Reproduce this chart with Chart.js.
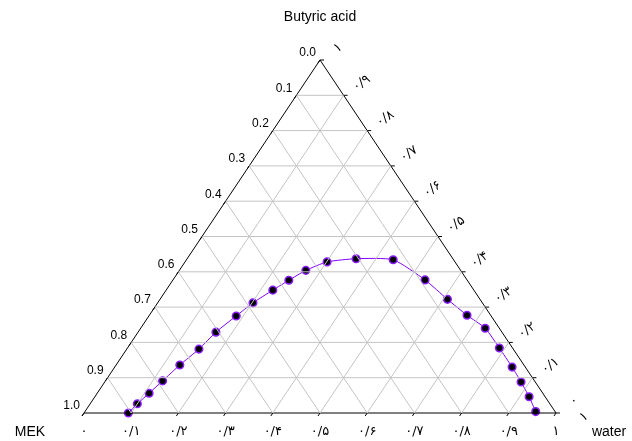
<!DOCTYPE html>
<html>
<head>
<meta charset="utf-8">
<script src="https://cdn.jsdelivr.net/npm/chart.js@4"></script>
<style>
  body { margin: 0; background: #fff; }
  #chart { display: block; }
</style>
</head>
<body>
<canvas id="chart" width="632" height="441"></canvas>
<script>
// tie line data: mass fractions
var water = [0.094, 0.100, 0.110, 0.121, 0.135, 0.153, 0.165, 0.185, 0.202, 0.226, 0.246, 0.268,
             0.301, 0.358, 0.438, 0.534, 0.609, 0.673, 0.730, 0.788, 0.842, 0.882, 0.920, 0.955];
var acid = [0.000, 0.026, 0.056, 0.091, 0.136, 0.181, 0.229, 0.275, 0.312, 0.348, 0.376, 0.404,
            0.428, 0.437, 0.434, 0.377, 0.322, 0.277, 0.240, 0.184, 0.130, 0.088, 0.046, 0.004];

var leftTicks = ['0.0', '0.1', '0.2', '0.3', '0.4', '0.5', '0.6', '0.7', '0.8', '0.9', '1.0'];
var bottomTicks = ['۰', '۰/۱', '۰/۲', '۰/۳', '۰/۴', '۰/۵', '۰/۶', '۰/۷', '۰/۸', '۰/۹', '۱'];
var rightTicks = ['۰', '۰/۱', '۰/۲', '۰/۳', '۰/۴', '۰/۵', '۰/۶', '۰/۷', '۰/۸', '۰/۹', '۱'];

// ternary -> cartesian (x across base, y = butyric acid)
function tern(w, b) {
  return { x: w + b / 2, y: b };
}

var datasets = [];

// grid lines
for (var i = 1; i < 10; i++) {
  var f = i / 10;
  // constant acid (horizontal)
  datasets.push({ data: [tern(0, f), tern(1 - f, f)] });
  // constant water
  datasets.push({ data: [tern(f, 0), tern(f, 1 - f)] });
  // constant MEK
  datasets.push({ data: [tern(1 - f, 0), tern(0, 1 - f)] });
}
datasets.forEach(function(d) {
  d.showLine = true;
  d.borderColor = '#c4c4c4';
  d.borderWidth = 1;
  d.pointRadius = 0;
  d.clip = false;
});

// triangle frame
datasets.push({
  data: [tern(0, 0), tern(1, 0), tern(0, 1), tern(0, 0)],
  showLine: true,
  borderColor: '#000',
  borderWidth: 1,
  pointRadius: 0,
  clip: false
});

// the curve
datasets.push({
  data: water.map(function(w, i) { return tern(w, acid[i]); }),
  showLine: true,
  borderColor: '#8000ff',
  borderWidth: 1,
  tension: 0.2,
  pointRadius: 3.8,
  pointBackgroundColor: '#000',
  pointBorderColor: '#8a1cff',
  pointBorderWidth: 1.5,
  clip: false
});

var labelsPlugin = {
  id: 'ternLabels',
  afterDraw: function(chart) {
    var ctx = chart.ctx;
    var sx = chart.scales.x, sy = chart.scales.y;
    function px(p) { return { x: sx.getPixelForValue(p.x), y: sy.getPixelForValue(p.y) }; }
    var numFont = "12px 'Liberation Sans', 'DejaVu Sans', sans-serif";
    var faFont = "13px 'DejaVu Sans', sans-serif";
    ctx.save();
    ctx.fillStyle = '#000';
    ctx.strokeStyle = '#000';
    ctx.lineWidth = 1;

    for (var i = 0; i <= 10; i++) {
      var f = i / 10;
      // left edge: MEK = f (0.0 at top)
      var pl = px(tern(0, 1 - f));
      ctx.beginPath();
      ctx.moveTo(pl.x, pl.y);
      ctx.lineTo(pl.x - 2, pl.y + 3);
      ctx.stroke();
      ctx.font = numFont;
      ctx.textAlign = 'right';
      ctx.textBaseline = 'middle';
      ctx.fillText(leftTicks[i], pl.x - 4, pl.y - 7);

      // bottom edge: water = f
      var pb = px(tern(f, 0));
      ctx.beginPath();
      ctx.moveTo(pb.x, pb.y);
      ctx.lineTo(pb.x - 2, pb.y + 3);
      ctx.stroke();
      ctx.font = faFont;
      ctx.textAlign = 'center';
      ctx.fillText(bottomTicks[i], pb.x, pb.y + 19);

      // right edge: acid = f
      var pr = px(tern(1 - f, f));
      ctx.beginPath();
      ctx.moveTo(pr.x, pr.y);
      ctx.lineTo(pr.x + 4, pr.y);
      ctx.stroke();
      ctx.save();
      ctx.translate(pr.x + 18, pr.y - 12);
      ctx.rotate(-0.6);
      ctx.textAlign = 'center';
      ctx.fillText(rightTicks[i], 0, 0);
      ctx.restore();
    }

    // stray mark beside the lower right corner
    var c = px(tern(1, 0));
    ctx.save();
    ctx.translate(c.x + 28, c.y + 4);
    ctx.rotate(-0.6);
    ctx.textAlign = 'center';
    ctx.textBaseline = 'middle';
    ctx.fillText('۱', 0, 0);
    ctx.restore();

    // component names
    ctx.font = "14px 'Liberation Sans', sans-serif";
    ctx.textAlign = 'center';
    ctx.textBaseline = 'middle';
    ctx.fillText('Butyric acid', (sx.left + sx.right) / 2, 17);
    ctx.fillText('MEK', 30, c.y + 19);
    ctx.fillText('water', 609, c.y + 19);
    ctx.restore();
  }
};

new Chart(document.getElementById('chart').getContext('2d'), {
  type: 'scatter',
  data: { datasets: datasets },
  options: {
    responsive: false,
    animation: false,
    layout: { padding: { left: 84, right: 76, top: 60, bottom: 28 } },
    scales: {
      x: { type: 'linear', min: 0, max: 1, display: false },
      y: { type: 'linear', min: 0, max: 1, display: false }
    },
    plugins: {
      legend: { display: false },
      tooltip: { enabled: false }
    }
  },
  plugins: [labelsPlugin]
});
</script>
</body>
</html>
